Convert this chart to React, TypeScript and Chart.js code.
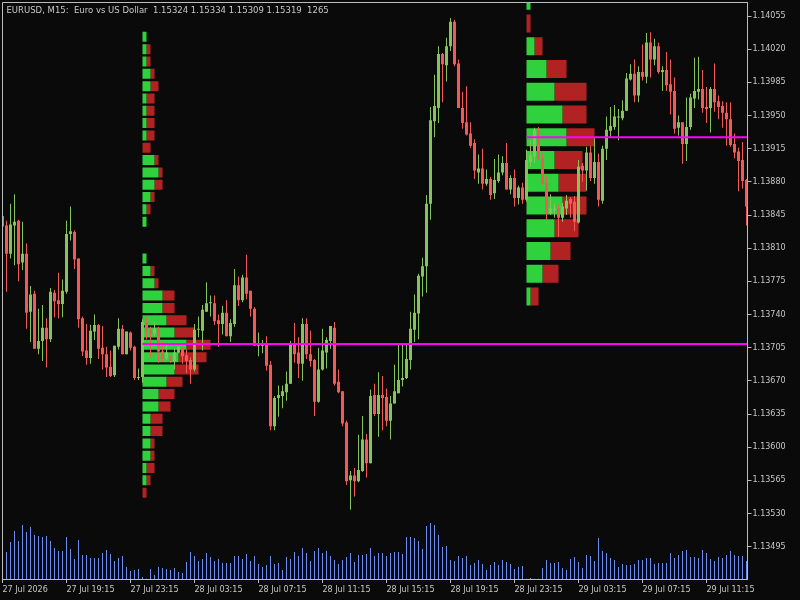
import React, { useEffect, useRef } from 'react';
import { Chart, registerables } from 'chart.js';

Chart.register(...registerables);

const TITLE = 'EURUSD, M15:  Euro vs US Dollar  1.15324 1.15334 1.15309 1.15319  1265';

// x axis: one bar every 15 minutes, label every 16 bars
const timeTickIndex = [0, 16, 32, 48, 64, 80, 96, 112, 128, 144, 160, 176];
const timeTickLabels = [
  '27 Jul 2026', '27 Jul 19:15', '27 Jul 23:15', '28 Jul 03:15', '28 Jul 07:15', '28 Jul 11:15',
  '28 Jul 15:15', '28 Jul 19:15', '28 Jul 23:15', '29 Jul 03:15', '29 Jul 07:15', '29 Jul 11:15',
];

const priceTicks = [
  1.13495, 1.1353, 1.13565, 1.136, 1.13635, 1.1367, 1.13705, 1.1374, 1.13775,
  1.1381, 1.13845, 1.1388, 1.13915, 1.1395, 1.13985, 1.1402, 1.14055,
];

const opens = [
  1.13844, 1.13834, 1.13804, 1.13834, 1.13839, 1.13795, 1.13804, 1.13743, 1.13762, 1.13704,
  1.13712, 1.13726, 1.13714, 1.13763, 1.13755, 1.13751, 1.13764, 1.13825, 1.13827, 1.13799,
  1.13736, 1.13702, 1.13694, 1.13722, 1.13729, 1.13705, 1.13698, 1.13685, 1.13676, 1.13706,
  1.13725, 1.13698, 1.13721, 1.13706, 1.13673, 1.13674, 1.13732, 1.13724, 1.1372, 1.13725,
  1.13701, 1.13694, 1.13696, 1.13691, 1.137, 1.13704, 1.13697, 1.13692, 1.13682, 1.13724,
  1.13723, 1.13743, 1.13752, 1.13752, 1.13734, 1.1373, 1.13742, 1.13717, 1.1373, 1.13771,
  1.13755, 1.13779, 1.13765, 1.13746, 1.13707, 1.13707, 1.1371, 1.13687, 1.13622, 1.13652,
  1.13654, 1.13658, 1.13667, 1.13708, 1.137, 1.13688, 1.1373, 1.13698, 1.13692, 1.13648,
  1.13682, 1.137, 1.13712, 1.13726, 1.13669, 1.13659, 1.13626, 1.13565, 1.1357, 1.13564,
  1.13575, 1.13608, 1.13583, 1.13655, 1.13635, 1.13655, 1.13653, 1.13628, 1.13646, 1.13657,
  1.13671, 1.13673, 1.13692, 1.13724, 1.13741, 1.1378, 1.13791, 1.13857, 1.13944, 1.13958,
  1.14015, 1.14003, 1.14023, 1.14049, 1.14005, 1.13958, 1.13943, 1.13931, 1.13921, 1.1389,
  1.13894, 1.13878, 1.13883, 1.13868, 1.13881, 1.1389, 1.139, 1.13872, 1.13884, 1.13863,
  1.13874, 1.13861, 1.13901, 1.13907, 1.13934, 1.13905, 1.13879, 1.13847, 1.1385, 1.13852,
  1.13842, 1.13852, 1.13862, 1.13859, 1.13837, 1.13897, 1.13892, 1.13911, 1.13884, 1.13901,
  1.1386, 1.13915, 1.13934, 1.13938, 1.13948, 1.13947, 1.13955, 1.13988, 1.13994, 1.13971,
  1.13996, 1.13991, 1.14027, 1.14009, 1.14023, 1.13996, 1.13998, 1.13983, 1.13976, 1.13937,
  1.13943, 1.1392, 1.13938, 1.13968, 1.13975, 1.13978, 1.13959, 1.13958, 1.13978, 1.13965,
  1.1396, 1.13953, 1.13946, 1.1392, 1.13912, 1.13903, 1.13882,
];

const highs = [
  1.13846, 1.13839, 1.13857, 1.13867, 1.1384, 1.13838, 1.13815, 1.1377, 1.13765, 1.13746,
  1.1375, 1.13736, 1.13768, 1.13766, 1.13784, 1.13777, 1.13839, 1.13854, 1.13829, 1.13799,
  1.13738, 1.1373, 1.13729, 1.1374, 1.1373, 1.13728, 1.13706, 1.13702, 1.13707, 1.13736,
  1.13729, 1.13722, 1.13722, 1.13707, 1.13683, 1.13735, 1.13737, 1.13727, 1.13732, 1.13727,
  1.13712, 1.13708, 1.13697, 1.13705, 1.13707, 1.13705, 1.13703, 1.13695, 1.1373, 1.13738,
  1.1375, 1.13774, 1.1376, 1.1376, 1.1374, 1.13749, 1.13755, 1.13735, 1.13788, 1.1378,
  1.13782, 1.13803, 1.13765, 1.13748, 1.13721, 1.13713, 1.13717, 1.13691, 1.13654, 1.13665,
  1.13665, 1.1368, 1.13712, 1.13731, 1.13716, 1.13736, 1.13736, 1.13723, 1.13693, 1.13705,
  1.13725, 1.13716, 1.13728, 1.13732, 1.13682, 1.13659, 1.13628, 1.13575, 1.13578, 1.13613,
  1.13633, 1.13614, 1.13661, 1.13667, 1.13679, 1.13675, 1.13662, 1.13654, 1.13687, 1.13708,
  1.13708, 1.13708, 1.13743, 1.13761, 1.13783, 1.138, 1.13866, 1.13959, 1.13993, 1.14023,
  1.14016, 1.14032, 1.14053, 1.14051, 1.14009, 1.13975, 1.13981, 1.13943, 1.13925, 1.13909,
  1.13915, 1.13893, 1.13885, 1.13904, 1.13909, 1.13907, 1.13921, 1.13887, 1.13893, 1.13876,
  1.13879, 1.13914, 1.13924, 1.13937, 1.13938, 1.1391, 1.13886, 1.13867, 1.13857, 1.13856,
  1.13858, 1.13866, 1.13864, 1.13865, 1.13903, 1.139, 1.13917, 1.13918, 1.13926, 1.1391,
  1.13918, 1.13949, 1.13959, 1.13961, 1.13957, 1.13966, 1.13995, 1.14004, 1.14009, 1.14002,
  1.14025, 1.14037, 1.14038, 1.14031, 1.14027, 1.14002, 1.14017, 1.14009, 1.1399, 1.1395,
  1.13943, 1.13969, 1.13973, 1.14011, 1.14012, 1.13998, 1.1398, 1.1398, 1.14005, 1.13971,
  1.13965, 1.13964, 1.13964, 1.13931, 1.13916, 1.13922, 1.13883,
];

const lows = [
  1.1383, 1.13764, 1.13799, 1.13792, 1.13775, 1.13787, 1.13725, 1.13711, 1.13704, 1.13698,
  1.13691, 1.13684, 1.13711, 1.13737, 1.13736, 1.13737, 1.13762, 1.13818, 1.13788, 1.13726,
  1.13696, 1.13687, 1.13688, 1.13713, 1.13693, 1.13682, 1.13674, 1.13674, 1.13674, 1.13703,
  1.13698, 1.13698, 1.13702, 1.13671, 1.13671, 1.13668, 1.13714, 1.13694, 1.13717, 1.13689,
  1.1369, 1.13692, 1.13689, 1.13682, 1.13699, 1.13688, 1.13678, 1.13667, 1.1368, 1.13716,
  1.13702, 1.13743, 1.13738, 1.13729, 1.13706, 1.13719, 1.13717, 1.13711, 1.13727, 1.13749,
  1.13753, 1.13756, 1.13738, 1.13707, 1.13696, 1.13699, 1.13681, 1.13618, 1.13618, 1.13632,
  1.13641, 1.13649, 1.13667, 1.13689, 1.13673, 1.1367, 1.13693, 1.13685, 1.13633, 1.13647,
  1.13681, 1.13683, 1.13704, 1.13665, 1.13657, 1.13622, 1.1356, 1.13534, 1.13548, 1.13563,
  1.13574, 1.13568, 1.13583, 1.13633, 1.13611, 1.13618, 1.13622, 1.13608, 1.13646, 1.13657,
  1.13664, 1.13672, 1.13682, 1.13711, 1.13714, 1.13759, 1.13763, 1.1384, 1.13927, 1.13942,
  1.13964, 1.13986, 1.14018, 1.14002, 1.13958, 1.13936, 1.13929, 1.13916, 1.13883, 1.13878,
  1.13872, 1.13876, 1.13861, 1.13862, 1.13879, 1.13887, 1.13872, 1.13867, 1.13854, 1.13856,
  1.13857, 1.13859, 1.13896, 1.139, 1.13903, 1.13877, 1.1384, 1.13845, 1.13842, 1.13822,
  1.13838, 1.13845, 1.13842, 1.13828, 1.13836, 1.1388, 1.13871, 1.13881, 1.13878, 1.13854,
  1.13857, 1.13903, 1.13927, 1.13935, 1.13924, 1.13945, 1.13955, 1.13987, 1.13964, 1.13964,
  1.13987, 1.13984, 1.1399, 1.14003, 1.13994, 1.13976, 1.13976, 1.13951, 1.13931, 1.13929,
  1.13899, 1.13902, 1.13935, 1.13958, 1.13967, 1.13953, 1.13942, 1.13932, 1.13954, 1.13946,
  1.13937, 1.13918, 1.13917, 1.13905, 1.1387, 1.13873, 1.13834,
];

const closes = [
  1.13833, 1.13804, 1.13835, 1.13838, 1.13793, 1.13804, 1.13742, 1.13761, 1.13704, 1.13712,
  1.13726, 1.13714, 1.13764, 1.13754, 1.13751, 1.13765, 1.13825, 1.13828, 1.13798, 1.13735,
  1.13701, 1.13694, 1.13723, 1.13729, 1.13704, 1.13698, 1.13684, 1.13675, 1.13707, 1.13725,
  1.13698, 1.13722, 1.13705, 1.13673, 1.13674, 1.13732, 1.13723, 1.1372, 1.13725, 1.13701,
  1.13693, 1.137, 1.13691, 1.137, 1.13706, 1.13696, 1.13691, 1.13682, 1.13724, 1.13725,
  1.13745, 1.13752, 1.13753, 1.13733, 1.1373, 1.13742, 1.13717, 1.13731, 1.13771, 1.13755,
  1.13779, 1.13762, 1.13746, 1.13707, 1.13708, 1.13708, 1.13686, 1.13622, 1.13652, 1.13655,
  1.13659, 1.13667, 1.13708, 1.13698, 1.13688, 1.1373, 1.13698, 1.13691, 1.13648, 1.13682,
  1.13702, 1.13713, 1.13728, 1.13667, 1.13658, 1.13625, 1.13564, 1.1357, 1.13564, 1.13576,
  1.13608, 1.13583, 1.13654, 1.13635, 1.13655, 1.13652, 1.13628, 1.13646, 1.13659, 1.13671,
  1.13673, 1.13693, 1.13725, 1.13742, 1.13781, 1.13791, 1.13857, 1.13945, 1.1396, 1.14015,
  1.14004, 1.14023, 1.14049, 1.14004, 1.13958, 1.13942, 1.1393, 1.13918, 1.13892, 1.13894,
  1.13878, 1.13883, 1.13866, 1.13882, 1.1389, 1.139, 1.13872, 1.13884, 1.13863, 1.13874,
  1.13861, 1.13903, 1.13908, 1.13935, 1.13904, 1.13878, 1.13847, 1.13852, 1.13852, 1.13842,
  1.13854, 1.1386, 1.13857, 1.13838, 1.13896, 1.13892, 1.13911, 1.13884, 1.13901, 1.13861,
  1.13915, 1.13935, 1.13939, 1.13949, 1.13949, 1.13955, 1.13989, 1.13994, 1.13971, 1.13996,
  1.13991, 1.14027, 1.14009, 1.14023, 1.13996, 1.13998, 1.13982, 1.13975, 1.13936, 1.13943,
  1.1392, 1.13938, 1.13969, 1.13976, 1.13978, 1.13958, 1.13957, 1.13978, 1.13964, 1.13959,
  1.13953, 1.13946, 1.13919, 1.13911, 1.13902, 1.13881, 1.13854,
];

const volumes = [
  1890, 1890, 2590, 3360, 2660, 3780, 3290, 3640, 3080, 3010,
  2940, 3010, 2660, 2170, 1960, 1960, 2940, 2100, 1400, 2730,
  1680, 1680, 1470, 1470, 1470, 1820, 2030, 1750, 1260, 1470,
  1610, 840, 560, 630, 700, 140, 20, 700, 280, 840,
  770, 700, 630, 770, 490, 420, 1190, 1890, 1610, 1260,
  1400, 1820, 1540, 1260, 1400, 1120, 1120, 1120, 1610, 1610,
  1400, 1750, 1260, 1610, 1050, 840, 980, 1610, 1050, 1120,
  630, 1540, 1400, 1890, 1610, 2170, 1820, 1260, 1960, 2170,
  1820, 1960, 1610, 1330, 1050, 1330, 1540, 1820, 1190, 1680,
  1680, 1750, 2170, 1610, 1820, 1820, 1610, 1820, 1890, 1890,
  1750, 2940, 2940, 2870, 2660, 2100, 3710, 3920, 3780, 3080,
  2240, 2310, 1330, 1260, 1610, 1470, 1610, 980, 1120, 1330,
  1050, 630, 980, 1190, 980, 1330, 1190, 1050, 700, 840,
  910, 10, 70, 10, 10, 770, 1330, 1120, 1120, 1190,
  770, 630, 1400, 1540, 1190, 770, 1680, 1610, 1260, 2870,
  1960, 1820, 1470, 1330, 840, 1050, 980, 980, 1050, 1330,
  1330, 1470, 1470, 1050, 1120, 1120, 1120, 1820, 1470, 1680,
  1960, 2030, 1540, 1540, 1470, 2030, 1820, 1400, 1260, 1540,
  1470, 1680, 1960, 1680, 1610, 1610, 1265,
];

// Daily volume profile of 28 Jul (starts at bar 35)
const leftProfileStart = 35;
const leftProfilePrices = [
  1.14033, 1.1402, 1.14007, 1.13994, 1.13981, 1.13968, 1.13955, 1.13942, 1.13929, 1.13916,
  1.13903, 1.1389, 1.13877, 1.13864, 1.13851, 1.13838, 1.13825, 1.13812, 1.13799, 1.13786,
  1.13773, 1.1376, 1.13747, 1.13734, 1.13721, 1.13708, 1.13695, 1.13682, 1.13669, 1.13656,
  1.13643, 1.1363, 1.13617, 1.13604, 1.13591, 1.13578, 1.13565, 1.13552,
];
const leftProfileBuy = [
  1, 1, 1, 2, 2, 1, 1, 1, 1, 0, 3, 4, 3, 2, 1, 1, 0, 0, 1, 2,
  3, 5, 5, 6, 8, 11, 9, 8, 6, 4, 4, 2, 2, 2, 2, 1, 1, 0,
];
const leftProfileSell = [
  0, 1, 1, 1, 2, 2, 2, 2, 2, 2, 1, 1, 2, 1, 1, 0, 0, 0, 0, 1,
  1, 3, 3, 5, 5, 6, 7, 6, 4, 4, 3, 3, 3, 1, 1, 2, 1, 1,
];

// Daily volume profile of 29 Jul (starts at bar 131)
const rightProfileStart = 131;
const rightProfilePrices = [
  1.14071, 1.14047, 1.14023, 1.13999, 1.13975, 1.13951, 1.13927,
  1.13903, 1.13879, 1.13855, 1.13831, 1.13807, 1.13783, 1.13759,
];
const rightProfileBuy = [1, 0, 2, 5, 7, 9, 10, 7, 8, 9, 7, 6, 4, 1];
const rightProfileSell = [0, 1, 2, 5, 8, 6, 7, 7, 7, 6, 6, 5, 4, 2];

// Point-of-control lines
const pocStarts = [35, 131];
const pocPrices = [1.13709, 1.13927];

const X_MAX = 186.25;
const PRICE_MIN = 1.134609;
const PRICE_MAX = 1.140698;
const VOLUME_MAX = 40390;

const BG = '#0a0a0a';
const FG = '#c8c8c8';
const FRAME = '#bdbdbd';
const BULL = '#86c35c';
const BEAR = '#f25a5a';
const VOL = '#6c8cf2';
const PROF_BUY = '#2fd13d';
const PROF_SELL = '#b22222';
const POC = '#ff00ff';
const FONT = 'DejaVu Sans';

const framePlugin = {
  id: 'frame',
  afterDatasetsDraw(chart: any) {
    const { ctx, chartArea: a } = chart;
    ctx.save();
    ctx.strokeStyle = FRAME;
    ctx.lineWidth = 1;
    ctx.beginPath();
    const lx = Math.floor(a.left) + 0.5;
    const ty = Math.floor(a.top) + 0.5;
    ctx.moveTo(lx, a.bottom);
    ctx.lineTo(lx, ty);
    ctx.lineTo(a.right, ty);
    ctx.stroke();
    ctx.restore();
  },
};

function profileDatasets(start: number, prices: number[], buy: number[], sell: number[], axis: string, thickness: number) {
  const common = {
    type: 'bar',
    indexAxis: 'y',
    xAxisID: 'x',
    yAxisID: axis,
    grouped: false,
    barThickness: thickness,
    maxBarThickness: thickness,
    inflateAmount: 0,
    borderWidth: 0,
    clip: 0,
    order: 5,
  };
  return [
    {
      ...common,
      label: 'buy',
      backgroundColor: PROF_BUY,
      data: prices.map((p, k) => (buy[k] > 0 ? { y: p, x: [start, start + buy[k]] } : null)).filter(Boolean),
    },
    {
      ...common,
      label: 'sell',
      backgroundColor: PROF_SELL,
      data: prices
        .map((p, k) => (sell[k] > 0 ? { y: p, x: [start + buy[k], start + buy[k] + sell[k]] } : null))
        .filter(Boolean),
    },
  ];
}

export default function App() {
  const canvasRef = useRef<HTMLCanvasElement | null>(null);

  useEffect(() => {
    document.body.style.margin = '0';
    document.body.style.background = BG;
    const canvas = canvasRef.current;
    if (!canvas) return;

    const idx = opens.map((_, i) => i);
    const colors = idx.map((i) => (closes[i] >= opens[i] ? BULL : BEAR));

    const tickFont = { family: FONT, size: 8 };

    const chart = new Chart(canvas, {
      type: 'bar',
      data: {
        datasets: [
          ...pocStarts.map((s, k) => ({
            type: 'line',
            label: 'poc' + k,
            data: [
              { x: s, y: pocPrices[k] },
              { x: X_MAX, y: pocPrices[k] },
            ],
            borderColor: POC,
            borderWidth: 2,
            pointRadius: 0,
            xAxisID: 'x',
            yAxisID: 'y',
            clip: 0,
            order: 1,
          })),
          {
            type: 'bar',
            label: 'bodies',
            data: idx.map((i) => ({ x: i, y: [Math.min(opens[i], closes[i]), Math.max(opens[i], closes[i])] })),
            backgroundColor: colors,
            xAxisID: 'x',
            yAxisID: 'y',
            grouped: false,
            barThickness: 3,
            maxBarThickness: 3,
            minBarLength: 1,
            inflateAmount: 0,
            borderWidth: 0,
            clip: 0,
            order: 2,
          },
          {
            type: 'bar',
            label: 'wicks',
            data: idx.map((i) => ({ x: i, y: [lows[i], highs[i]] })),
            backgroundColor: colors,
            xAxisID: 'x',
            yAxisID: 'y',
            grouped: false,
            barThickness: 1,
            maxBarThickness: 1,
            inflateAmount: 0,
            borderWidth: 0,
            clip: 0,
            order: 3,
          },
          {
            type: 'bar',
            label: 'volume',
            data: idx.map((i) => ({ x: i, y: volumes[i] })),
            backgroundColor: VOL,
            xAxisID: 'x',
            yAxisID: 'yv',
            grouped: false,
            barThickness: 1,
            maxBarThickness: 1,
            inflateAmount: 0,
            borderWidth: 0,
            clip: 0,
            order: 4,
          },
          ...profileDatasets(leftProfileStart, leftProfilePrices, leftProfileBuy, leftProfileSell, 'ypl', 10),
          ...profileDatasets(rightProfileStart, rightProfilePrices, rightProfileBuy, rightProfileSell, 'ypr', 18),
        ] as any,
      },
      options: {
        responsive: false,
        maintainAspectRatio: false,
        animation: false,
        devicePixelRatio: 1,
        events: [],
        layout: { padding: { left: 2.5, top: 2, right: 0, bottom: 0 }, autoPadding: false },
        plugins: { legend: { display: false }, tooltip: { enabled: false }, title: { display: false } },
        scales: {
          x: {
            type: 'linear',
            position: 'bottom',
            min: 0,
            max: X_MAX,
            offset: false,
            stacked: false,
            grid: { display: true, offset: false, drawOnChartArea: false, drawTicks: true, tickLength: 4, color: FRAME },
            border: { display: true, color: FRAME, width: 1 },
            ticks: {
              autoSkip: false,
              maxRotation: 0,
              minRotation: 0,
              align: 'start',
              padding: 2,
              color: FG,
              font: tickFont,
              callback: (v: any) => {
                const k = timeTickIndex.indexOf(Number(v));
                return k >= 0 ? timeTickLabels[k] : '';
              },
            },
            afterBuildTicks: (s: any) => {
              s.ticks = timeTickIndex.map((v) => ({ value: v }));
            },
            afterFit: (s: any) => {
              s.height = 21;
              s.paddingLeft = 0;
              s.paddingRight = 0;
            },
          },
          y: {
            type: 'linear',
            position: 'right',
            min: PRICE_MIN,
            max: PRICE_MAX,
            offset: false,
            stacked: false,
            grid: { display: true, offset: false, drawOnChartArea: false, drawTicks: true, tickLength: 4, color: FRAME },
            border: { display: true, color: FRAME, width: 1 },
            ticks: {
              padding: 1,
              color: FG,
              font: tickFont,
              callback: (v: any) => Number(v).toFixed(5),
            },
            afterBuildTicks: (s: any) => {
              s.ticks = priceTicks.map((v) => ({ value: v }));
            },
            afterFit: (s: any) => {
              s.width = 52.5;
              s.paddingTop = 0;
              s.paddingBottom = 0;
            },
          },
          yv: { type: 'linear', display: false, min: 0, max: VOLUME_MAX, offset: false, ticks: { maxTicksLimit: 3 } },
          ypl: { type: 'linear', display: false, min: PRICE_MIN, max: PRICE_MAX, offset: false, ticks: { maxTicksLimit: 3 } },
          ypr: { type: 'linear', display: false, min: PRICE_MIN, max: PRICE_MAX, offset: false, ticks: { maxTicksLimit: 3 } },
        },
      } as any,
      plugins: [framePlugin],
    });

    return () => chart.destroy();
  }, []);

  return (
    <div
      style={{
        position: 'fixed',
        left: 0,
        top: 0,
        width: 800,
        height: 600,
        background: BG,
        overflow: 'hidden',
      }}
    >
      <canvas ref={canvasRef} width={800} height={600} style={{ display: 'block', width: 800, height: 600 }} />
      <div
        style={{
          position: 'absolute',
          left: 6.5,
          top: 4.8,
          color: FG,
          fontFamily: FONT,
          fontSize: '8.5px',
          lineHeight: '10px',
          whiteSpace: 'pre',
          pointerEvents: 'none',
        }}
      >
        {TITLE}
      </div>
    </div>
  );
}
